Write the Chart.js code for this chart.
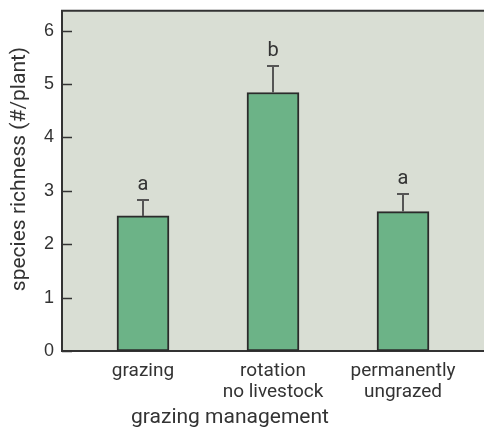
<!DOCTYPE html>
<html>
<head>
<meta charset="utf-8">
<script src="https://cdn.jsdelivr.net/npm/chart.js@4.4.0/dist/chart.umd.min.js"></script>
<style>
  html, body { margin: 0; padding: 0; background: #ffffff; }
  #wrap { width: 484px; height: 430px; }
</style>
</head>
<body>
<div id="wrap"><canvas id="chart" width="484" height="430"></canvas></div>
<script>
// Species richness per plant under three grazing regimes
const categories = [["grazing"], ["rotation", "no livestock"], ["permanently", "ungrazed"]];
const meanRichness = [2.53, 4.84, 2.61];
const upperError = [0.30, 0.50, 0.33];
const groupLetters = ["a", "b", "a"];
const yTicks = [0, 1, 2, 3, 4, 5, 6];
const xTitle = "grazing management";
const yTitle = "species richness (#/plant)";

const barPoints = meanRichness.map((v, i) => ({ x: i, y: v }));

// Panel background, top frame line, inward y tick marks and axis titles
const framePlugin = {
  id: 'frame',
  beforeDraw(chart) {
    const { ctx, chartArea: a } = chart;
    ctx.save();
    ctx.fillStyle = '#d9ded4';
    ctx.fillRect(a.left, a.top, a.right - a.left, a.bottom - a.top);
    ctx.restore();
  },
  afterDraw(chart) {
    const { ctx, chartArea: a, scales } = chart;
    ctx.save();
    ctx.strokeStyle = '#333333';
    ctx.lineWidth = 2;
    ctx.beginPath();
    ctx.moveTo(a.left - 1, a.top);
    ctx.lineTo(a.right, a.top);
    ctx.stroke();
    ctx.lineWidth = 1.5;
    yTicks.forEach(t => {
      const y = Math.round(scales.y.getPixelForValue(t)) + 0.5;
      ctx.beginPath();
      ctx.moveTo(a.left, y);
      ctx.lineTo(a.left + 10, y);
      ctx.stroke();
    });

    ctx.fillStyle = '#333333';
    ctx.font = '21px Roboto';
    ctx.textAlign = 'center';
    ctx.textBaseline = 'middle';
    ctx.fillText(xTitle, 230, 418);
    ctx.translate(20, 169);
    ctx.rotate(-Math.PI / 2);
    ctx.fillText(yTitle, 0, 0);
    ctx.restore();
  }
};

// Upward error bars with significance letters
const errorPlugin = {
  id: 'errorBars',
  afterDatasetsDraw(chart) {
    const { ctx, scales } = chart;
    ctx.save();
    meanRichness.forEach((m, i) => {
      const x = Math.round(scales.x.getPixelForValue(i));
      const yTop = scales.y.getPixelForValue(m);
      const yCap = Math.round(scales.y.getPixelForValue(m + upperError[i]));
      ctx.strokeStyle = '#555555';
      ctx.lineWidth = 2;
      ctx.beginPath();
      ctx.moveTo(x, yTop);
      ctx.lineTo(x, yCap);
      ctx.moveTo(x - 6, yCap);
      ctx.lineTo(x + 6, yCap);
      ctx.stroke();
      ctx.fillStyle = '#333333';
      ctx.font = '20px Roboto';
      ctx.textAlign = 'center';
      ctx.textBaseline = 'alphabetic';
      ctx.fillText(groupLetters[i], x, yCap - 10);
    });
    ctx.restore();
  }
};

new Chart(document.getElementById('chart'), {
  type: 'bar',
  data: {
    datasets: [{
      data: barPoints,
      backgroundColor: '#6cb387',
      borderColor: '#2b2b2b',
      borderWidth: 2,
      borderSkipped: false,
      barThickness: 52
    }]
  },
  options: {
    responsive: false,
    animation: false,
    layout: { padding: { top: 6, right: 0, left: 0, bottom: 0 } },
    plugins: { legend: { display: false }, tooltip: { enabled: false } },
    scales: {
      x: {
        type: 'linear',
        offset: false,
        min: -0.623,
        max: 2.623,
        afterBuildTicks(scale) { scale.ticks = categories.map((c, i) => ({ value: i })); },
        afterFit(scale) { scale.height = 79; },
        grid: { display: false, offset: false },
        border: { display: true, color: '#333333', width: 2 },
        ticks: {
          color: '#333333',
          font: { family: 'Roboto', size: 19, lineHeight: 1.1 },
          padding: 2,
          maxRotation: 0,
          autoSkip: false,
          callback: (v) => categories[v] || ''
        }
      },
      y: {
        min: 0,
        max: 6.37,
        afterBuildTicks(scale) { scale.ticks = yTicks.map(v => ({ value: v })); },
        afterFit(scale) { scale.width = 62; },
        grid: { display: false },
        border: { display: true, color: '#333333', width: 2 },
        ticks: {
          color: '#333333',
          font: { family: 'Liberation Sans', size: 18 },
          padding: 0
        }
      }
    }
  },
  plugins: [framePlugin, errorPlugin]
});
</script>
</body>
</html>
